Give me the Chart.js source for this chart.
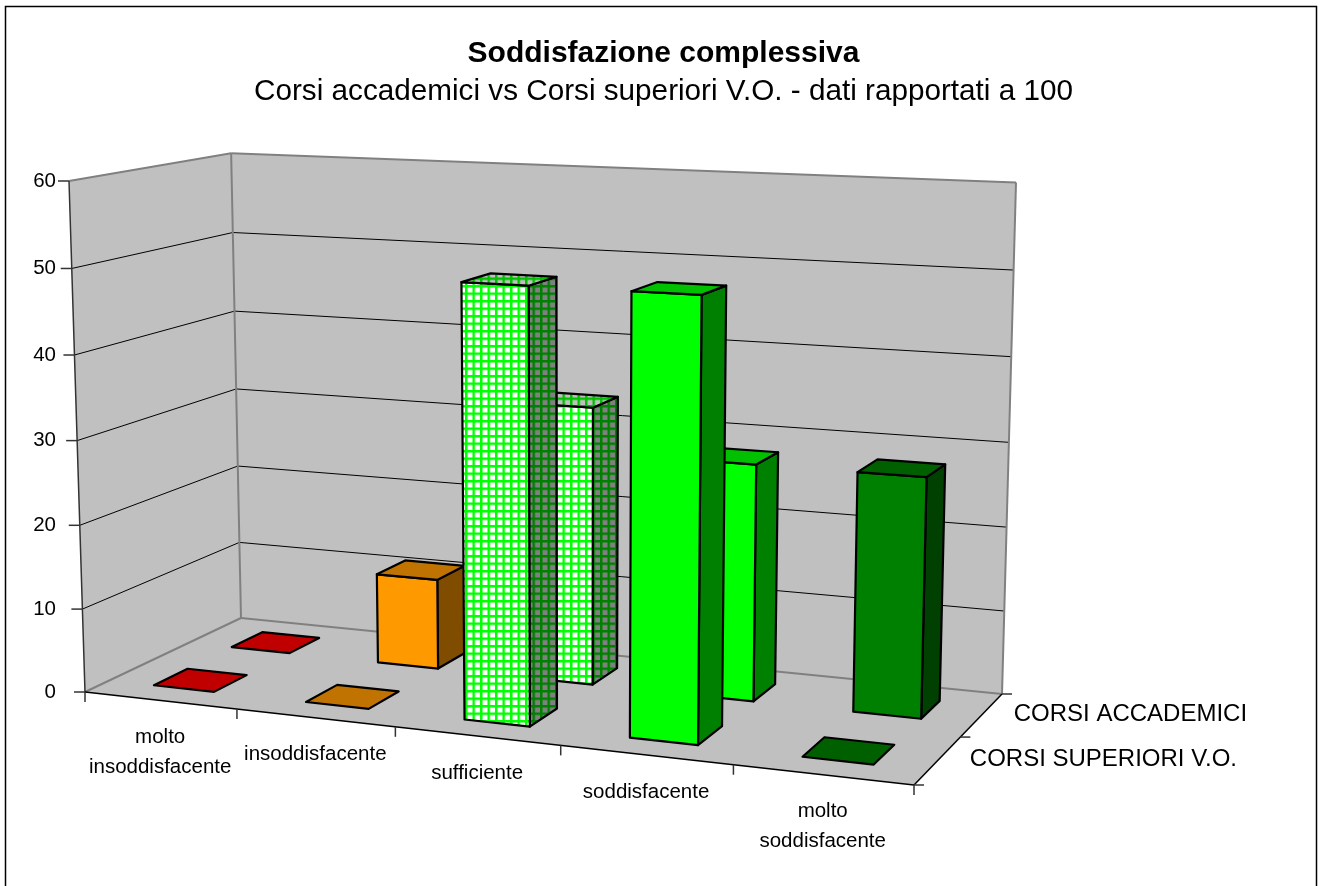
<!DOCTYPE html>
<html lang="it">
<head>
<meta charset="utf-8">
<title>Soddisfazione complessiva</title>
<script src="https://cdn.jsdelivr.net/npm/chart.js@4/dist/chart.umd.min.js"></script>
<style>
  html, body { margin: 0; background: #fff; }
  canvas { display: block; }
</style>
</head>
<body>
<canvas id="chart" width="1327" height="886"></canvas>
<script>
/* Istogramma 3D: i valori passano dalle scale di Chart.js, poi un plugin
 * proietta i pixel dell'area grafico sul box prospettico. */

const CATEGORIES = [
  ["molto", "insoddisfacente"],
  "insoddisfacente",
  "sufficiente",
  "soddisfacente",
  ["molto", "soddisfacente"],
];
const SERIES_NAMES = ["CORSI SUPERIORI V.O.", "CORSI ACCADEMICI"];
const VO_VALUES = [0, 0, 50, 50, 0];
const ACCADEMICI_VALUES = [0, 11, 33.3, 28, 28];
const VALUE_TICKS = [0, 10, 20, 30, 40, 50, 60];

// [frontale, superiore, laterale] per categoria
const FACE_COLORS = [
  ["#ff0000", "#c00000", "#800000"],
  ["#ff9900", "#c07300", "#7f4c00"],
  null, // retino, vedi checker()
  ["#00ff00", "#00c000", "#008000"],
  ["#008000", "#006000", "#004000"],
];

const FONT = '"Liberation Sans", Arial, sans-serif';
const WALL = "#c0c0c0";
const WALL_EDGE = "#808080";

// angoli del box in pixel
const FLOOR_FRONT_LEFT = [85, 692];
const FLOOR_FRONT_RIGHT = [914, 785];
const FLOOR_BACK_RIGHT = [1002, 694];
const FLOOR_BACK_LEFT = [241, 618];
const TOP_FRONT_LEFT = [69, 181];
const TOP_BACK_RIGHT = [1016, 181];

const BAR_DEPTH = 0.21; // metà fila occupata dalla barra, frazione del pavimento

function floorHomography() {
  const [x0, y0] = FLOOR_FRONT_LEFT, [x1, y1] = FLOOR_FRONT_RIGHT;
  const [x2, y2] = FLOOR_BACK_RIGHT, [x3, y3] = FLOOR_BACK_LEFT;
  const dx1 = x1 - x2, dx2 = x3 - x2, sx = x0 - x1 + x2 - x3;
  const dy1 = y1 - y2, dy2 = y3 - y2, sy = y0 - y1 + y2 - y3;
  const den = dx1 * dy2 - dx2 * dy1;
  const g = (sx * dy2 - dx2 * sy) / den;
  const h = (dx1 * sy - sx * dy1) / den;
  return {
    a: x1 - x0 + g * x1, b: x3 - x0 + h * x3, c: x0,
    d: y1 - y0 + g * y1, e: y3 - y0 + h * y3, f: y0,
    g, h,
  };
}

const H = floorHomography();
// colonna verticale della matrice di proiezione, dai due angoli in alto
const Wback = H.g + H.h + 1;
const Fback = FLOOR_BACK_RIGHT;
const vw = (Wback * (TOP_BACK_RIGHT[0] - Fback[0]) - (TOP_FRONT_LEFT[0] - FLOOR_FRONT_LEFT[0])) /
           (TOP_FRONT_LEFT[0] - TOP_BACK_RIGHT[0]);
const vx = (TOP_FRONT_LEFT[0] - FLOOR_FRONT_LEFT[0]) + TOP_FRONT_LEFT[0] * vw;
const vy = (TOP_FRONT_LEFT[1] - FLOOR_FRONT_LEFT[1]) + TOP_FRONT_LEFT[1] * vw;

// u: lungo le categorie, d: profondità, v: altezza — tutti 0..1
function project(u, d, v) {
  const w = H.g * u + H.h * d + 1 + v * vw;
  return [
    (H.a * u + H.b * d + H.c + v * vx) / w,
    (H.d * u + H.e * d + H.f + v * vy) / w,
  ];
}

function poly(ctx, pts, fill, stroke, lw) {
  ctx.beginPath();
  pts.forEach((p, i) => (i ? ctx.lineTo(p[0], p[1]) : ctx.moveTo(p[0], p[1])));
  ctx.closePath();
  if (fill) { ctx.fillStyle = fill; ctx.fill(); }
  if (stroke) { ctx.strokeStyle = stroke; ctx.lineWidth = lw; ctx.lineJoin = "round"; ctx.stroke(); }
}

function line(ctx, a, b, color, lw) {
  ctx.beginPath();
  ctx.moveTo(a[0], a[1]);
  ctx.lineTo(b[0], b[1]);
  ctx.strokeStyle = color;
  ctx.lineWidth = lw;
  ctx.stroke();
}

function checker(ctx, bg, fg) {
  const c = document.createElement("canvas");
  c.width = c.height = 8;
  const p = c.getContext("2d");
  p.fillStyle = bg;
  p.fillRect(0, 0, 8, 8);
  p.fillStyle = fg;
  p.fillRect(0, 0, 8, 2.6);
  p.fillRect(0, 0, 2.6, 8);
  const pattern = ctx.createPattern(c, "repeat");
  pattern.setTransform(new DOMMatrix().scale(7.5 / 8));
  return pattern;
}

const box3d = {
  id: "box3d",
  beforeDatasetsDraw(chart) {
    const { ctx, scales: { x, y }, chartArea: area } = chart;
    const frac = (tick) => (area.bottom - y.getPixelForValue(tick)) / area.height;

    // cornice
    ctx.save();
    ctx.strokeStyle = "#000";
    ctx.lineWidth = 1.5;
    ctx.strokeRect(5.5, 6.5, 1311, 900);

    // pareti e pavimento
    poly(ctx, [project(0, 0, 0), project(0, 1, 0), project(0, 1, 1), project(0, 0, 1)], WALL);
    poly(ctx, [project(0, 1, 0), project(1, 1, 0), project(1, 1, 1), project(0, 1, 1)], WALL);
    poly(ctx, [project(0, 0, 0), project(1, 0, 0), project(1, 1, 0), project(0, 1, 0)], WALL);

    // griglia sul valore
    y.ticks.forEach((t) => {
      const v = frac(t.value);
      if (v > 0 && v < 1) {
        line(ctx, project(0, 0, v), project(0, 1, v), "#000", 1);
        line(ctx, project(0, 1, v), project(1, 1, v), "#000", 1);
      }
    });

    // spigoli grigi
    line(ctx, project(0, 0, 1), project(0, 1, 1), WALL_EDGE, 2);
    line(ctx, project(0, 1, 1), project(1, 1, 1), WALL_EDGE, 2);
    line(ctx, project(1, 1, 1), project(1, 1, 0), WALL_EDGE, 2);
    line(ctx, project(0, 1, 1), project(0, 1, 0), WALL_EDGE, 2);
    line(ctx, project(0, 1, 0), project(1, 1, 0), WALL_EDGE, 2);
    line(ctx, project(0, 0, 0), project(0, 1, 0), WALL_EDGE, 2);

    // assi
    line(ctx, project(0, 0, 0), project(0, 0, 1), "#333", 1.5);
    line(ctx, project(0, 0, 0), project(1, 0, 0), "#000", 1.5);
    line(ctx, project(1, 0, 0), project(1, 1, 0), "#000", 1.5);

    // etichette asse valori
    ctx.fillStyle = "#000";
    ctx.font = "20.5px " + FONT;
    ctx.textAlign = "right";
    ctx.textBaseline = "middle";
    y.ticks.forEach((t) => {
      const p = project(0, 0, frac(t.value));
      line(ctx, p, [p[0] - 11, p[1]], "#333", 1.5);
      ctx.fillText(t.label, 56, p[1]);
    });

    // etichette categorie
    ctx.textAlign = "center";
    CATEGORIES.forEach((cat, i) => {
      const tick = project((x.getPixelForValue(i + 0.5) - area.left) / area.width, 0, 0);
      line(ctx, tick, [tick[0], tick[1] + 10], "#333", 1.5);
      if (i === 0) {
        const o = project(0, 0, 0);
        line(ctx, o, [o[0], o[1] + 10], "#333", 1.5);
      }
      const mid = project((x.getPixelForValue(i) - area.left) / area.width, 0, 0);
      [].concat(cat).forEach((txt, k) => ctx.fillText(txt, mid[0], mid[1] + 37 + k * 30));
    });

    // etichette serie sulla profondità
    ctx.textAlign = "left";
    ctx.font = "24px " + FONT;
    chart.data.datasets.forEach((ds, i) => {
      const n = chart.data.datasets.length;
      const edge = project(1, i / n, 0);
      line(ctx, edge, [edge[0] + 10, edge[1]], "#333", 1.5);
      const p = project(1, (i + 0.5) / n, 0);
      ctx.fillText(ds.label, p[0] + 32, p[1] - 1);
    });
    const end = project(1, 1, 0);
    line(ctx, end, [end[0] + 10, end[1]], "#333", 1.5);
    ctx.restore();
  },
  beforeDatasetDraw(chart, args) {
    const { ctx, chartArea: area } = chart;
    const n = chart.data.datasets.length;
    const dMid = (args.index + 0.5) / n;
    const d0 = dMid - BAR_DEPTH / n, d1 = dMid + BAR_DEPTH / n;
    ctx.save();
    args.meta.data.forEach((el, i) => {
      const u0 = (el.x - el.width / 2 - area.left) / area.width;
      const u1 = (el.x + el.width / 2 - area.left) / area.width;
      const v = (area.bottom - el.y) / area.height;
      const [front, top, side] = FACE_COLORS[i] || [
        checker(ctx, "#ffffff", "#00ff00"),
        checker(ctx, "#c0c0c0", "#00c000"),
        checker(ctx, "#808080", "#008000"),
      ];
      if (v > 0) {
        poly(ctx, [project(u1, d0, 0), project(u1, d1, 0), project(u1, d1, v), project(u1, d0, v)], side, "#000", 2.2);
        poly(ctx, [project(u0, d0, 0), project(u1, d0, 0), project(u1, d0, v), project(u0, d0, v)], front, "#000", 2.2);
      }
      poly(ctx, [project(u0, d0, v), project(u1, d0, v), project(u1, d1, v), project(u0, d1, v)], top, "#000", 2.2);
    });
    ctx.restore();
    return false; // la barra piatta di default non serve
  },
};

new Chart(document.getElementById("chart"), {
  type: "bar",
  data: {
    labels: CATEGORIES,
    datasets: [
      { label: SERIES_NAMES[0], data: VO_VALUES },
      { label: SERIES_NAMES[1], data: ACCADEMICI_VALUES },
    ],
  },
  options: {
    responsive: false,
    animation: false,
    grouped: false,
    categoryPercentage: 0.4,
    barPercentage: 1,
    layout: { padding: { top: 36 } },
    plugins: {
      legend: { display: false },
      tooltip: { enabled: false },
      title: {
        display: true,
        text: "Soddisfazione complessiva",
        color: "#000",
        font: { family: FONT, size: 30, weight: "bold" },
        padding: { top: 0, bottom: 2 },
      },
      subtitle: {
        display: true,
        text: "Corsi accademici vs Corsi superiori V.O. - dati rapportati a 100",
        color: "#000",
        font: { family: FONT, size: 29.7, weight: "normal" },
      },
    },
    scales: {
      x: { display: false },
      y: {
        display: false,
        min: VALUE_TICKS[0],
        max: VALUE_TICKS[VALUE_TICKS.length - 1],
        afterBuildTicks: (s) => { s.ticks = VALUE_TICKS.map((value) => ({ value })); },
      },
    },
  },
  plugins: [box3d],
});
</script>
</body>
</html>
